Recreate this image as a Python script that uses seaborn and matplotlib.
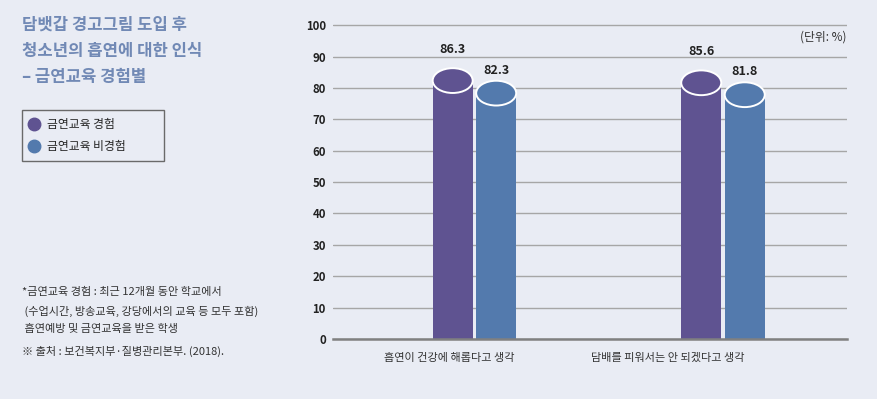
import matplotlib
matplotlib.use("Agg")
import matplotlib.pyplot as plt
from matplotlib.lines import Line2D
from matplotlib.patches import Ellipse
import seaborn as sns
import pandas as pd

# === 데이터 ===
categories = ["흡연이 건강에 해롭다고 생각", "담배를 피워서는 안 되겠다고 생각"]
groups = ["금연교육 경험", "금연교육 비경험"]
experienced = [86.3, 85.6]
not_experienced = [82.3, 81.8]
yticks = list(range(0, 101, 10))

title_lines = ["담뱃갑 경고그림 도입 후", "청소년의 흡연에 대한 인식", "– 금연교육 경험별"]
notes = [
    "*금연교육 경험 : 최근 12개월 동안 학교에서",
    " (수업시간, 방송교육, 강당에서의 교육 등 모두 포함)",
    " 흡연예방 및 금연교육을 받은 학생",
    "※ 출처 : 보건복지부·질병관리본부. (2018).",
]

colors = ["#5f5391", "#537aad"]
bg = "#e9ecf4"

df = pd.DataFrame({
    "category": categories * 2,
    "group": [groups[0]] * 2 + [groups[1]] * 2,
    "value": experienced + not_experienced,
})

sns.set_theme(style="white")
plt.rcParams["font.family"] = ["Noto Sans CJK KR", "DejaVu Sans"]

fig = plt.figure(figsize=(8.78, 3.99), dpi=100, facecolor=bg)
ax = fig.add_axes([0.379, 0.1504, 0.586, 0.7896])
ax.set_facecolor(bg)

sns.barplot(data=df, x="category", y="value", hue="group", palette=colors,
            width=0.35, gap=0.08, saturation=1, legend=False, linewidth=0,
            ax=ax, zorder=2)

ax.set_ylim(0, 100.4)
ax.set_xlim(-0.57, 1.5)

# === 원통 윗면 ===
cap_h = 7.9
label_off = {0: 6.0, 1: 3.3}
bars = list(ax.patches)
for p in bars:
    h = p.get_height()
    if h == 0:
        continue
    x, w = p.get_x(), p.get_width()
    p.set_height(h - cap_h / 2)
    ax.add_patch(Ellipse((x + w / 2, h - cap_h / 2), w, cap_h,
                         facecolor=p.get_facecolor(), edgecolor="white",
                         lw=1.4, zorder=3))
    g = 0 if round(h, 1) in experienced else 1
    ax.text(x + w / 2, h + label_off[g], f"{h:.1f}", ha="center", va="center",
            fontsize=9, fontweight="bold", color="#222222")

# === 축 ===
ax.set_yticks(yticks)
ax.set_yticklabels([str(t) for t in yticks], fontsize=8.2, fontweight="bold", color="#222222")
ax.set_xticks([-0.10, 0.777])
ax.set_xticklabels(categories, fontsize=8, color="#333333")
ax.tick_params(axis="y", length=0, pad=5)
ax.tick_params(axis="x", length=0, pad=10)
ax.set_xlabel("")
ax.set_ylabel("")
ax.grid(axis="y", color="#a6a6a6", lw=1)
ax.set_axisbelow(True)
for s in ["left", "top", "right"]:
    ax.spines[s].set_visible(False)
ax.spines["bottom"].set_color("#808080")
ax.spines["bottom"].set_linewidth(1.8)

fig.text(847 / 878, 1 - 37 / 399, "(단위: %)", ha="right", va="center",
         fontsize=8.5, color="#333333")

# === 제목 ===
for y, line in zip([25, 51, 77], title_lines):
    fig.text(22 / 878, 1 - y / 399, line, ha="left", va="center",
             fontsize=12, fontweight="bold", color="#7189b5")

# === 범례 ===
handles = [Line2D([], [], marker="o", ls="", color=c, markersize=9) for c in colors]
leg = fig.legend(handles, groups, loc="upper left",
                 bbox_to_anchor=(22 / 878, 1 - 164 / 399, 142 / 878, 54 / 399),
                 mode="expand", frameon=True, fancybox=False, fontsize=8.5,
                 handlelength=0.7, handletextpad=0.7, borderaxespad=0,
                 borderpad=0.7, labelspacing=0.75, facecolor=bg,
                 edgecolor="#6a6a6a", framealpha=1)
leg.get_frame().set_linewidth(1)

# === 주석 ===
for y, line in zip([292, 311, 329, 351], notes):
    fig.text(22 / 878, 1 - y / 399, line, ha="left", va="center",
             fontsize=8, color="#333333")

fig.savefig("out.png", dpi=100, facecolor=bg)
